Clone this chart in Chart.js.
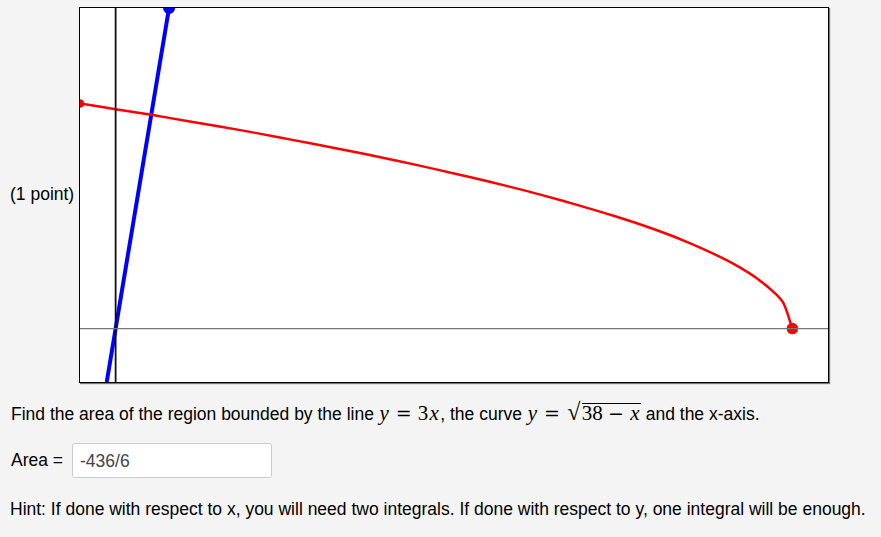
<!DOCTYPE html>
<html>
<head>
<meta charset="utf-8">
<script src="https://cdn.jsdelivr.net/npm/chart.js@4/dist/chart.umd.min.js"></script>
<style>
  html, body { margin:0; padding:0; background:#f4f4f4; width:881px; height:537px; overflow:hidden;
    font-family: "Liberation Sans", Arial, sans-serif; font-size:17.5px; color:#000; }
  #box { position:absolute; left:79px; top:7px; width:748px; height:374px; background:#fff;
    border:1px solid #000; box-shadow: 1px 1px 1px #777; }
  #box canvas { display:block; }
  .t { position:absolute; white-space:nowrap; line-height:22px; }
  .math { font-family: "Liberation Serif", "DejaVu Serif", serif; font-size:21px; }
  .math span { display:inline-block; text-align:center; }
  .i { font-style:italic; }
  .rel { width:28px; font-family:"DejaVu Serif", serif; font-size:19px; }
  .bin { width:26px; font-family:"DejaVu Serif", serif; font-size:19px; }
  .sq { border-top:1.2px solid #000; line-height:19px; }
  .rad { font-size:24px; width:16px; }
  #inp { position:absolute; left:72px; top:443px; width:198px; height:33px; background:#fff;
    border:1px solid #ccc; border-radius:3px; }
  #inp span { position:absolute; left:7px; top:6px; color:#444; font-size:17.5px; line-height:22px; }
</style>
</head>
<body>
<div class="t" style="left:10px; top:183px;">(1 point)</div>
<div id="box"><canvas id="c" width="748" height="374"></canvas></div>
<div class="t" style="left:11px; top:401px;">Find the area of the region bounded by the line <span class="math"><span class="i" style="width:11px">y</span><span class="rel">=</span><span style="width:10.5px">3</span><span class="i" style="width:12px">x</span></span>, the curve <span class="math"><span class="i" style="width:11px">y</span><span class="rel">=</span><span class="rad">√</span><span class="sq"><span style="width:21px">38</span><span class="bin">−</span><span class="i" style="width:12px">x</span></span></span> and the x-axis.</div>
<div class="t" style="left:11px; top:449px;">Area =</div>
<div id="inp"><span>-436/6</span></div>
<div class="t" style="left:10px; top:498px;">Hint: If done with respect to x, you will need two integrals. If done with respect to y, one integral will be enough.</div>
<script>
// window of the graph
const xRange = [-2, 40];
const yRange = [-1.5, 9];

// curve y = sqrt(38 - x)
const curveX = [-2, 0, 2, 4, 6, 8, 10, 12, 14, 16, 18, 20, 22, 24, 26, 28, 30, 32, 34, 35, 36, 37, 37.5, 38];
const curveY = [6.32, 6.16, 6.00, 5.83, 5.66, 5.48, 5.29, 5.10, 4.90, 4.69, 4.47, 4.24, 4.00, 3.74, 3.46, 3.16, 2.83, 2.45, 2.00, 1.73, 1.41, 1.00, 0.71, 0];

// line y = 3x
const lineX = [-0.5, 3];
const lineY = [-1.5, 9];

// axes
const xAxisX = [-2, 40];
const xAxisY = [0, 0];
const yAxisX = [0, 0];
const yAxisY = [-1.5, 9];

const pts = (xs, ys) => xs.map((x, i) => ({x, y: ys[i]}));

const curveRadius = curveX.map((_, i) => i === 0 ? 3 : (i === curveX.length - 1 ? 4.5 : 0));

new Chart(document.getElementById('c'), {
  type: 'scatter',
  data: {
    datasets: [
      { data: pts(xAxisX, xAxisY), showLine: true, borderColor: '#777', borderWidth: 1.3, pointRadius: 0 },
      { data: pts(yAxisX, yAxisY), showLine: true, borderColor: '#111', borderWidth: 1.8, pointRadius: 0 },
      { data: pts(curveX, curveY), showLine: true, borderColor: '#ff0000', borderWidth: 2.5,
        pointRadius: curveRadius, pointBackgroundColor: '#ff0000', pointBorderColor: '#ff0000', tension: 0.3 },
      { data: pts(lineX, lineY), showLine: true, borderColor: '#0000ff', borderWidth: 4, clip: 0,
        pointRadius: [0, 4], pointBackgroundColor: '#0000ff', pointBorderColor: '#0000ff' }
    ]
  },
  options: {
    responsive: false,
    animation: false,
    layout: { padding: 0, autoPadding: false },
    plugins: { legend: { display: false }, tooltip: { enabled: false } },
    scales: {
      x: { type: 'linear', min: xRange[0], max: xRange[1], display: false },
      y: { type: 'linear', min: yRange[0], max: yRange[1], display: false }
    }
  }
});
</script>
</body>
</html>
